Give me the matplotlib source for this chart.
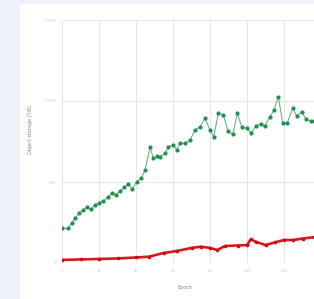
import matplotlib.pyplot as plt
from matplotlib.patches import Rectangle

# green series
green_x = [0, 3.4, 5.2, 7, 9.2, 11.5, 13.7, 15.7, 17.8, 20, 22.3, 25, 27.2, 29,
           31.4, 33.7, 35.7, 38, 40.4, 42.7, 44.9, 47.6, 49.3, 51.4, 53, 55.7,
           57.5, 60.2, 62, 63.6, 66.5, 69.2, 71.9, 74.6, 77.3, 80, 82, 84.5,
           87.2, 89.7, 92.3, 94.8, 97.1, 99.8, 102.2, 104.9, 107.4, 109.7,
           112.4, 114.6, 116.9, 119.3, 121.8, 124.7, 126.9, 129.6, 131.9,
           134.4, 136.2]
green_y = [214, 214, 245, 276, 307, 327, 348, 331, 358, 372, 385, 406, 434, 420,
           446, 467, 488, 455, 502, 523, 574, 716, 648, 660, 656, 677,
           718, 728, 698, 739, 739, 759, 821, 841, 893, 821, 780, 924,
           914, 815, 794, 924, 841, 831, 804, 846, 858, 846,
           903, 944, 1027, 866, 866, 955, 907, 934, 887,
           878, 878]

# red series
red_x = [0, 10, 20, 30, 40, 47, 55, 62, 70, 75, 80, 84, 88, 95, 100, 102,
         105, 110, 115, 120, 125, 130, 136]
red_y = [19, 22, 25, 28, 34, 39, 62, 74, 93, 101, 93, 80, 105, 108, 111, 146,
         130, 111, 127, 142, 142, 151, 159]

x_ticks = [0, 20, 40, 60, 80, 100, 120]
y_ticks = [0, 500, 1000, 1500]
y_tick_labels = ["0", "500", "1,000", "1,500"]

W, H = 314, 299
fig = plt.figure(figsize=(W / 100, H / 100), dpi=100)
fig.patch.set_facecolor("#eef1f9")
card = Rectangle((20 / W, 0), 1, 1 - 4 / H, transform=fig.transFigure,
                 facecolor="white", edgecolor="none", zorder=-5)
fig.add_artist(card)

px_per_unit = 1.85
xmax = 140
left, bottom, top = 62, 263, 20
ax = fig.add_axes([left / W, 1 - bottom / H, xmax * px_per_unit / W, (bottom - top) / H])
ax.set_zorder(1)
ax.set_facecolor("white")
ax.set_xlim(0, xmax)
ax.set_ylim(0, 1500)

ax.plot(green_x, green_y, color="#5aa877", lw=0.7, marker="o", ms=2.0,
        mfc="#1f9150", mec="#1f9150", zorder=3)
ax.plot(red_x, red_y, color="#d7191c", lw=1.9, marker="o", ms=1.6,
        mfc="#c81014", mec="#c81014", zorder=3)

ax.set_xticks(x_ticks)
ax.set_yticks(y_ticks)
ax.set_yticklabels(y_tick_labels)
ax.grid(True, color="#e6e6e6", lw=0.7)
ax.set_axisbelow(True)
for s in ax.spines.values():
    s.set_visible(False)
ax.tick_params(length=0, labelsize=3, labelcolor="#cccccc", pad=4)

ax.set_xlabel("Epoch", fontsize=3.5, color="#888888")
ax.xaxis.set_label_coords((185 - left) / (xmax * px_per_unit), -0.09)
ax.set_ylabel("Object storage (TiB)", fontsize=3.5, color="#888888")
ax.yaxis.set_label_coords((33 - left) / (xmax * px_per_unit), 0.55)

fig.savefig("out.png", dpi=100, facecolor=fig.get_facecolor())
